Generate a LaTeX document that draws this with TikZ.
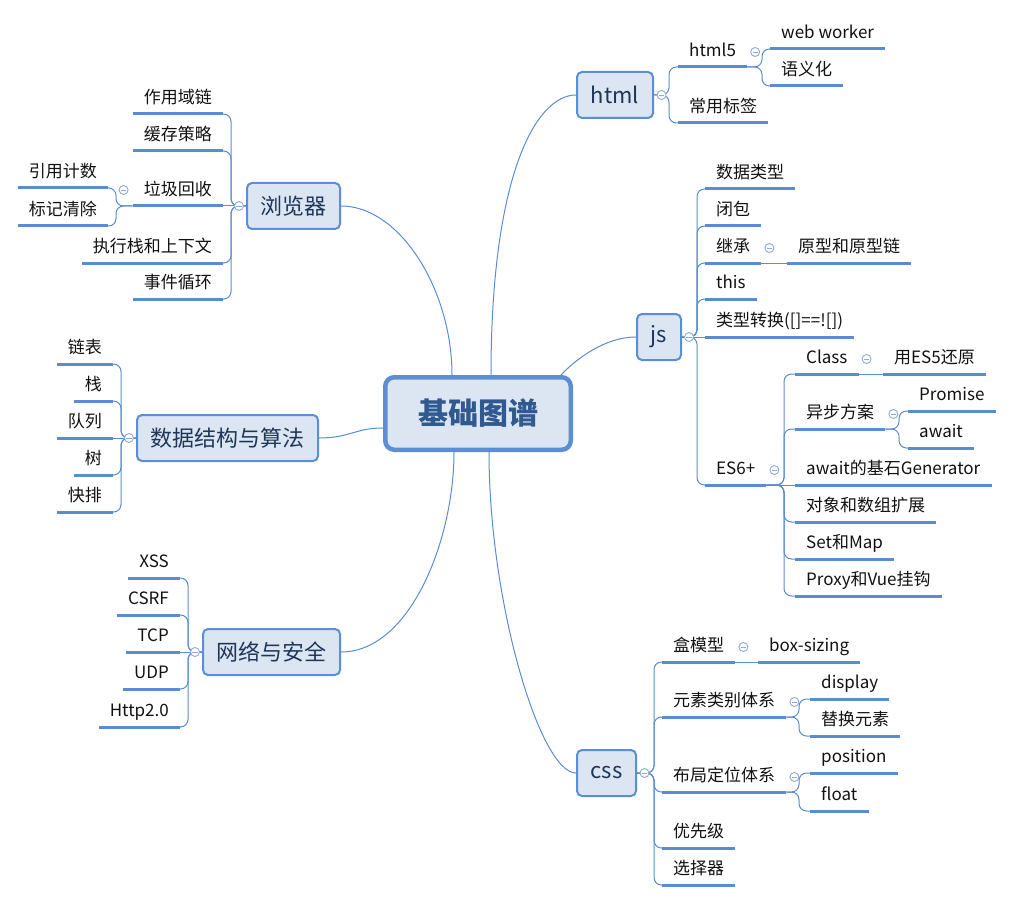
\documentclass[tikz,border=0pt]{standalone}
\usepackage{fontspec}
\setmainfont{Noto Sans CJK SC}
\definecolor{lineblue}{HTML}{5A8CD2}
\definecolor{boxfill}{HTML}{DCE6F2}
\definecolor{boxdraw}{HTML}{5B8ED4}
\definecolor{topictext}{HTML}{1F3659}
\definecolor{roottext}{HTML}{30598F}
\definecolor{leaftext}{HTML}{111111}
\definecolor{foldc}{HTML}{8EABDA}
\newcommand\rleafnode[3]{\node[rleaf] (#1) at (#2) {#3};\draw[uline] (#1.south west) -- (#1.south east);}
\newcommand\lleafnode[3]{\node[lleaf] (#1) at (#2) {#3};\draw[uline] (#1.south west) -- (#1.south east);}
\begin{document}
\begin{tikzpicture}[x=1pt,y=-1pt,
  rootbox/.style={draw=boxdraw, line width=4.5pt, fill=boxfill, rounded corners=9pt, minimum width=185.5pt, minimum height=72.5pt, font=\fontsize{30}{34}\selectfont\bfseries, text=roottext},
  topic/.style={draw=boxdraw, line width=2pt, fill=boxfill, rounded corners=5pt, minimum height=46pt, inner xsep=13pt, font=\fontsize{22}{26}\selectfont, text=topictext},
  leaf/.style={inner xsep=11pt, inner ysep=0pt, text height=13pt, text depth=10pt, font=\fontsize{17}{20}\selectfont, text=leaftext},
  rleaf/.style={leaf, anchor=south west},
  lleaf/.style={leaf, anchor=south east},
  uline/.style={draw=lineblue, line width=3pt},
  conn/.style={draw=lineblue, line width=1pt, rounded corners=7.5pt},
  mainconn/.style={draw=lineblue, line width=1pt},
  fold/.style={circle, draw=foldc, fill=white, line width=0.9pt, minimum size=9pt, inner sep=0pt,
    path picture={\draw[foldc, line width=0.9pt] ([xshift=-2.6pt]path picture bounding box.center) -- ([xshift=2.6pt]path picture bounding box.center);}},
]
\useasboundingbox (0,0) rectangle (1016,901);

% ---------- main topics ----------
\node[rootbox] (root) at (478,413.5) {基础图谱};
\node[topic, minimum width=76pt] (html) at (615,95) {html};
\node[topic, minimum width=44pt] (js) at (659,337) {js};
\node[topic, minimum width=59pt] (css) at (606.5,773) {css};
\node[topic, minimum width=93pt] (bro) at (293.5,206) {浏览器};
\node[topic, minimum width=181pt] (ds) at (227.5,438) {数据结构与算法};
\node[topic, minimum width=137pt] (net) at (271.5,652) {网络与安全};

\draw[mainconn] (bro.east) .. controls +(59,0) and +(0,-85) .. ([xshift=-26pt]root.north);
\draw[mainconn] (html.west) .. controls +(-40,0) and +(0,-200) .. ([xshift=13pt]root.north);
\draw[mainconn] (js.west) .. controls +(-31,0) and +(15,-16) .. ([xshift=-12pt]root.north east);
\draw[mainconn] (css.west) .. controls +(-36,0) and +(0,150) .. ([xshift=11pt]root.south);
\draw[mainconn] (net.east) .. controls +(69,0) and +(0,88) .. ([xshift=-24pt]root.south);
\draw[mainconn] (ds.east) .. controls +(31,0) and +(-28,0) .. ([yshift=-14.5pt]root.west);

% ---------- html ----------
\rleafnode{h5}{678,67}{html5}
\rleafnode{cybq}{678,123}{常用标签}
\rleafnode{ww}{770,49}{web worker}
\rleafnode{yyh}{770,86}{语义化}
\coordinate (htmlS) at (669,95);
\coordinate (h5S) at (762,67);
\draw[conn] (html.east) -- (htmlS) |- (h5.south west);
\draw[conn] (html.east) -- (htmlS) |- (cybq.south west);
\draw[conn] (h5.south east) -- (h5S) |- (ww.south west);
\draw[conn] (h5.south east) -- (h5S) |- (yyh.south west);

% ---------- js ----------
\rleafnode{sjlx}{705,189}{数据类型}
\rleafnode{bb}{705,226}{闭包}
\rleafnode{jc}{705,263}{继承}
\rleafnode{this}{705,299}{this}
\rleafnode{lxzh}{705,337}{类型转换([]==![])}
\rleafnode{es6}{705,485}{ES6+}
\rleafnode{yxl}{787,263}{原型和原型链}
\rleafnode{cls}{795,374}{Class}
\rleafnode{es5}{883,374}{用ES5还原}
\rleafnode{ybfa}{795,429}{异步方案}
\rleafnode{prom}{908,411}{Promise}
\rleafnode{awt}{908,448}{await}
\rleafnode{gen}{795,485}{await的基石Generator}
\rleafnode{dxsz}{795,522}{对象和数组扩展}
\rleafnode{setm}{795,559}{Set和Map}
\rleafnode{prox}{795,596}{Proxy和Vue挂钩}
\coordinate (jsS) at (697,337);
\coordinate (es6S) at (784,485);
\coordinate (ybS) at (899,429);
\foreach \c in {sjlx,bb,jc,this}{\draw[conn] (js.east) -- (jsS) |- (\c.south west);}
\draw[conn] (js.east) -- (lxzh.south west);
\draw[conn] (js.east) -- (jsS) |- (es6.south west);
\draw[conn] (jc.south east) -- (yxl.south west);
\draw[conn] (cls.south east) -- (es5.south west);
\foreach \c in {cls,ybfa,dxsz,setm,prox}{\draw[conn] (es6.south east) -- (es6S) |- (\c.south west);}
\draw[conn] (es6.south east) -- (gen.south west);
\draw[conn] (ybfa.south east) -- (ybS) |- (prom.south west);
\draw[conn] (ybfa.south east) -- (ybS) |- (awt.south west);

% ---------- css ----------
\rleafnode{hmx}{662,662}{盒模型}
\rleafnode{boxs}{758,662}{box-sizing}
\rleafnode{ysl}{662,717}{元素类别体系}
\rleafnode{disp}{810,699}{display}
\rleafnode{thys}{810,736}{替换元素}
\rleafnode{bjdw}{662,792}{布局定位体系}
\rleafnode{posi}{810,773}{position}
\rleafnode{flt}{810,811}{float}
\rleafnode{yxj}{662,848}{优先级}
\rleafnode{xzq}{662,885}{选择器}
\coordinate (cssS) at (654,773);
\coordinate (yslS) at (799,717);
\coordinate (bjS) at (799,792);
\foreach \c in {hmx,ysl,bjdw,yxj,xzq}{\draw[conn] (css.east) -- (cssS) |- (\c.south west);}
\draw[conn] (hmx.south east) -- (boxs.south west);
\draw[conn] (ysl.south east) -- (yslS) |- (disp.south west);
\draw[conn] (ysl.south east) -- (yslS) |- (thys.south west);
\draw[conn] (bjdw.south east) -- (bjS) |- (posi.south west);
\draw[conn] (bjdw.south east) -- (bjS) |- (flt.south west);

% ---------- browser ----------
\lleafnode{zyyl}{223,114}{作用域链}
\lleafnode{hccl}{223,151}{缓存策略}
\lleafnode{ljhs}{223,206}{垃圾回收}
\lleafnode{yyjs}{108,188}{引用计数}
\lleafnode{bjqc}{108,226}{标记清除}
\lleafnode{zxz}{223,263}{执行栈和上下文}
\lleafnode{sjxh}{223,299}{事件循环}
\coordinate (broS) at (231,206);
\coordinate (ljS) at (116,206);
\foreach \c in {zyyl,hccl,zxz,sjxh}{\draw[conn] (bro.west) -- (broS) |- (\c.south east);}
\draw[conn] (bro.west) -- (ljhs.south east);
\draw[conn] (ljhs.south west) -- (ljS) |- (yyjs.south east);
\draw[conn] (ljhs.south west) -- (ljS) |- (bjqc.south east);

% ---------- data structures ----------
\lleafnode{lb}{113,364}{链表}
\lleafnode{zhan}{113,401}{栈}
\lleafnode{dl}{113,438}{队列}
\lleafnode{shu}{113,475}{树}
\lleafnode{kp}{113,512}{快排}
\coordinate (dsS) at (121,438);
\foreach \c in {lb,zhan,shu,kp}{\draw[conn] (ds.west) -- (dsS) |- (\c.south east);}
\draw[conn] (ds.west) -- (dl.south east);

% ---------- network ----------
\lleafnode{xss}{180,578}{XSS}
\lleafnode{csrf}{180,615}{CSRF}
\lleafnode{tcp}{180,652}{TCP}
\lleafnode{udp}{180,689}{UDP}
\lleafnode{http}{180,727}{Http2.0}
\coordinate (netS) at (188,652);
\foreach \c in {xss,csrf,udp,http}{\draw[conn] (net.west) -- (netS) |- (\c.south east);}
\draw[conn] (net.west) -- (tcp.south east);

% ---------- fold markers ----------
\node[fold] (f1) at ([xshift=7.5pt]html.east) {};
\node[fold] (f2) at ([xshift=7pt]js.east) {};
\node[fold] (f3) at ([xshift=7.5pt]css.east) {};
\node[fold] (f4) at ([xshift=-7pt]bro.west) {};
\node[fold] (f5) at ([xshift=-7pt]ds.west) {};
\node[fold] (f6) at ([xshift=-7pt]net.west) {};
\foreach \p/\n in {h5/f7,jc/f8,es6/f9,cls/f10,ybfa/f11,hmx/f12,ysl/f13,bjdw/f14}{
  \node[fold] (\n) at ([xshift=8pt,yshift=15pt]\p.south east) {};}
\node[fold] (f15) at ([xshift=-9pt,yshift=16pt]ljhs.south west) {};
\end{tikzpicture}
\end{document}
